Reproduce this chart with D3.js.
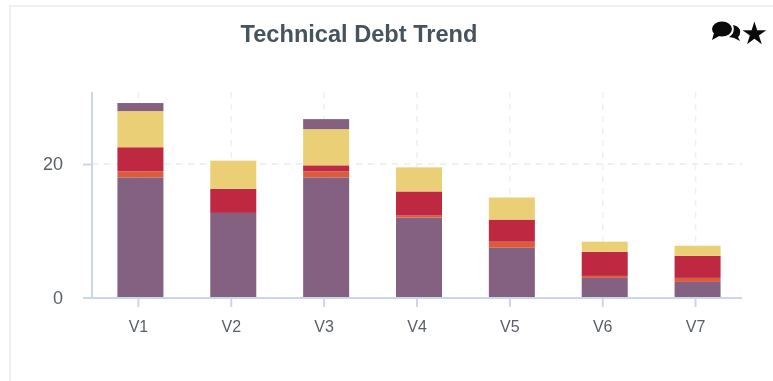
<!DOCTYPE html>
<html>
<head>
<meta charset="utf-8">
<script src="https://cdn.jsdelivr.net/npm/d3@7"></script>
<style>
    html, body { margin: 0; padding: 0; background: white; overflow: hidden; }
    svg { display: block; filter: blur(0.45px); }
    text { font-family: "Liberation Sans", Arial, sans-serif; }
</style>
</head>
<body>
<svg id="chart" width="773" height="381"></svg>
<script>
var categories = ["V1", "V2", "V3", "V4", "V5", "V6", "V7"];
var blocker  = [18, 12.7, 18, 12, 7.5, 3, 2.4];
var critical = [0.9, 0, 0.9, 0.3, 0.9, 0.3, 0.6];
var major    = [3.6, 3.6, 0.9, 3.6, 3.3, 3.6, 3.3];
var minor    = [5.4, 4.2, 5.4, 3.6, 3.3, 1.5, 1.5];
var info     = [1.2, 0, 1.5, 0, 0, 0, 0];
var yTicks = [0, 20];

var seriesNames = ["blocker", "critical", "major", "minor", "info"];
var seriesColors = ["#846180", "#d95c3f", "#bf2841", "#ebcf76", "#846180"];

var rows = categories.map(function(c, i) {
    return {name: c, blocker: blocker[i], critical: critical[i], major: major[i], minor: minor[i], info: info[i]};
});

var svg = d3.select("#chart");

// card outline
svg.append("path")
    .attr("d", "M10,381V6H773")
    .attr("fill", "none")
    .attr("stroke", "#f0f0f0")
    .attr("stroke-width", 2);

var x = d3.scaleBand().domain(categories).range([92, 742]);
var y = d3.scaleLinear().domain([0, 20]).range([298, 164]);
var barWidth = 46;
var barShift = 2;
var plotTop = 92;

// grid
var grid = svg.append("g");
grid.selectAll("line.vgrid")
    .data(categories)
    .enter()
    .append("line")
    .classed("vgrid", true)
    .attr("x1", function(d) {return x(d) + x.bandwidth() / 2;})
    .attr("x2", function(d) {return x(d) + x.bandwidth() / 2;})
    .attr("y1", plotTop)
    .attr("y2", y(0))
    .attr("stroke", "#f0f0f2")
    .attr("stroke-width", 1.5)
    .attr("stroke-dasharray", "6,6");
grid.selectAll("line.hgrid")
    .data(yTicks.slice(1))
    .enter()
    .append("line")
    .classed("hgrid", true)
    .attr("x1", 92)
    .attr("x2", 742)
    .attr("y1", function(d) {return y(d);})
    .attr("y2", function(d) {return y(d);})
    .attr("stroke", "#ececee")
    .attr("stroke-width", 1.5)
    .attr("stroke-dasharray", "6,6");

// bars
var stacked = d3.stack().keys(seriesNames)(rows);
svg.append("g")
    .selectAll("g")
    .data(stacked)
    .enter()
    .append("g")
    .attr("fill", function(d, i) {return seriesColors[i];})
    .selectAll("rect")
    .data(function(d) {return d.filter(function(s) {return s[1] > s[0];});})
    .enter()
    .append("rect")
    .attr("x", function(d) {return x(d.data.name) + x.bandwidth() / 2 + barShift - barWidth / 2;})
    .attr("width", barWidth)
    .attr("y", function(d) {return y(d[1]);})
    .attr("height", function(d) {return y(d[0]) - y(d[1]);});

// axes
var axisColor = "#ccd6eb";
var xAxis = svg.append("g")
    .attr("transform", "translate(0," + y(0) + ")")
    .call(d3.axisBottom(x).tickSize(9).tickPadding(14));
var yAxis = svg.append("g")
    .attr("transform", "translate(92,0)")
    .call(d3.axisLeft(y).tickValues(yTicks).tickSize(9).tickPadding(20));

xAxis.select(".domain").attr("stroke", axisColor).attr("stroke-width", 2).attr("d", "M83,0H742");
yAxis.select(".domain").attr("stroke", axisColor).attr("stroke-width", 2).attr("d", "M0," + plotTop + "V" + y(0));
xAxis.selectAll(".tick line").attr("stroke", axisColor).attr("stroke-width", 2);
yAxis.selectAll(".tick line").attr("stroke", axisColor).attr("stroke-width", 2);
yAxis.selectAll(".tick").filter(function(d) {return d === 0;}).select("line").remove();
xAxis.selectAll(".tick text")
    .attr("fill", "#5b6068")
    .style("font-family", "'Liberation Sans', Arial, sans-serif")
    .style("font-size", "16px");
yAxis.selectAll(".tick text")
    .attr("fill", "#5b6068")
    .style("font-family", "'Liberation Sans', Arial, sans-serif")
    .style("font-size", "18px");

// title
svg.append("text")
    .attr("x", 359)
    .attr("y", 42)
    .attr("text-anchor", "middle")
    .attr("fill", "#47535f")
    .style("font-size", "23.6px")
    .style("font-weight", "bold")
    .text("Technical Debt Trend");

// icons, top right
var icons = svg.append("g").attr("fill", "#0a0a0a");
icons.append("ellipse").attr("cx", 722).attr("cy", 29).attr("rx", 10).attr("ry", 7.5);
icons.append("path").attr("d", "M714,33L712,40L721,35Z");
icons.append("path")
    .attr("d", "M733,25C738,26 741,29 740,33C740,35 739,36 738,37L740,41L734,38L729,37C733,35 735,30 733,25Z");
icons.append("text")
    .attr("x", 754.5)
    .attr("y", 44)
    .attr("text-anchor", "middle")
    .style("font-family", "'DejaVu Sans'")
    .style("font-size", "31px")
    .text("★");
</script>
</body>
</html>
